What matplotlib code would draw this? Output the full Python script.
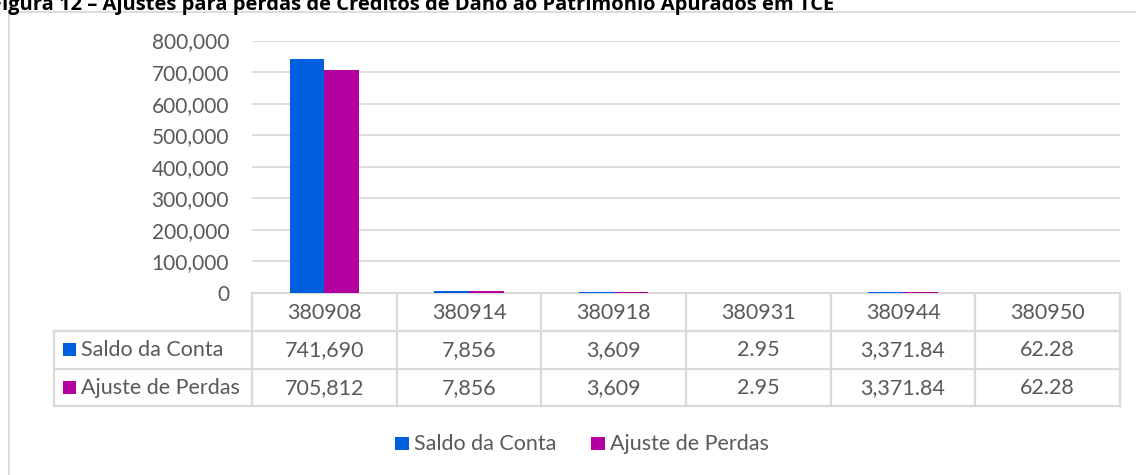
import matplotlib
matplotlib.use("Agg")
import matplotlib.pyplot as plt
from matplotlib.patches import Rectangle
from matplotlib.lines import Line2D

# ---- data ----
categories = ["380908", "380914", "380918", "380931", "380944", "380950"]
series_names = ["Saldo da Conta", "Ajuste de Perdas"]
saldo = [741690, 7856, 3609, 2.95, 3371.84, 62.28]
ajuste = [705812, 7856, 3609, 2.95, 3371.84, 62.28]
yticks = [0, 100000, 200000, 300000, 400000, 500000, 600000, 700000, 800000]
title = "Figura 12 – Ajustes para perdas de Créditos de Dano ao Patrimônio Apurados em TCE"

colors = ["#005FDD", "#B4009E"]
grid_c = "#D9D9D9"
text_c = "#595959"
FONT = ["Lato", "DejaVu Sans"]
plt.rcParams["font.family"] = FONT

W, H = 1136, 475
fig = plt.figure(figsize=(W / 100, H / 100), dpi=100)

# overlay axes in pixel coords (for frame, table, legend)
ov = fig.add_axes([0, 0, 1, 1])
ov.set_xlim(0, W)
ov.set_ylim(H, 0)
ov.axis("off")

# plot area pixel geometry
L, R, TOP, BOT = 252, 1120, 40.5, 293

ax = fig.add_axes([L / W, (H - BOT) / H, (R - L) / W, (BOT - TOP) / H])
x = list(range(len(categories)))
bw = 0.24
ax.bar([i - bw / 2 for i in x], saldo, bw, color=colors[0], zorder=3)
ax.bar([i + bw / 2 for i in x], ajuste, bw, color=colors[1], zorder=3)
ax.set_xlim(-0.5, len(categories) - 0.5)
ax.set_ylim(0, 800000)
ax.set_yticks(yticks)
ax.set_yticklabels([f"{v:,.0f}" for v in yticks], color=text_c, fontsize=15)
ax.tick_params(axis="y", length=0, pad=16.5)
ax.set_xticks([])
ax.grid(axis="y", color=grid_c, linewidth=1.3, zorder=0)
for s in ["left", "right", "top"]:
    ax.spines[s].set_visible(False)
ax.spines["bottom"].set_color(grid_c)
ax.spines["bottom"].set_linewidth(1.3)

# outer frame (partially visible)
ov.add_line(Line2D([9, 9], [12, H + 5], color=grid_c, lw=1.3))
ov.add_line(Line2D([9, W + 5], [12, 12], color=grid_c, lw=1.3))

# title (at the top edge as in reference)
fig.text(-9 / W, 1 - 10 / H, title, fontsize=14.5, fontweight="bold",
         color="#000000", ha="left", va="baseline", family=["Open Sans", "DejaVu Sans"])

# ---- data table ----
n = len(categories)
colw = (R - L) / n
row_y = [293, 330.5, 368.5, 406]
lc = grid_c
lw = 1.6
ov.add_line(Line2D([L, R], [row_y[0], row_y[0]], color=lc, lw=lw))
for yy in row_y[1:]:
    ov.add_line(Line2D([54, R], [yy, yy], color=lc, lw=lw))
for j in range(n + 1):
    xx = L + j * colw
    ov.add_line(Line2D([xx, xx], [row_y[0], row_y[3]], color=lc, lw=lw))
ov.add_line(Line2D([54, 54], [row_y[1], row_y[3]], color=lc, lw=lw))


def fmt(v):
    return f"{v:,.0f}" if float(v).is_integer() else f"{v:,.2f}"


fs = 15.5
for j, c in enumerate(categories):
    cx = L + (j + 0.5) * colw
    ov.text(cx, (row_y[0] + row_y[1]) / 2 + 1, c, ha="center", va="center",
            fontsize=fs, color=text_c)
    for r, vals in enumerate([saldo, ajuste]):
        cy = (row_y[r + 1] + row_y[r + 2]) / 2 + 1
        ov.text(cx, cy, fmt(vals[j]), ha="center", va="center", fontsize=fs, color=text_c)

for r, name in enumerate(series_names):
    cy = (row_y[r + 1] + row_y[r + 2]) / 2
    ov.add_patch(Rectangle((63, cy - 6.5), 13, 13, color=colors[r], lw=0))
    ov.text(81, cy + 1, name, ha="left", va="center", fontsize=fs, color=text_c)

# ---- legend ----
leg_y = 443
leg_x = [395, 591]
for k, name in enumerate(series_names):
    ov.add_patch(Rectangle((leg_x[k], leg_y - 6.5), 13.5, 13.5, color=colors[k], lw=0))
    ov.text(leg_x[k] + 19, leg_y + 1, name, ha="left", va="center", fontsize=fs, color=text_c)

fig.savefig("out.png", dpi=100)
